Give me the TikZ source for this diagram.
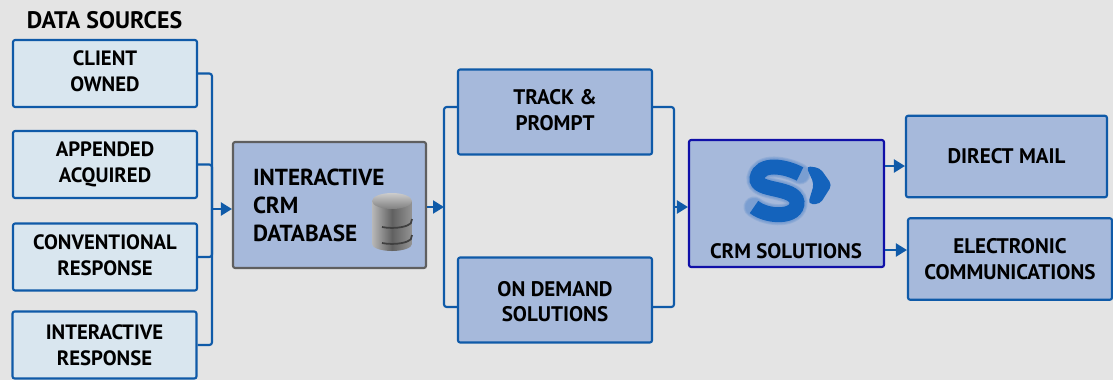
\documentclass[tikz,border=0pt]{standalone}
\usepackage{fontspec}
\setmainfont{PT Sans}
\usetikzlibrary{arrows.meta}
\definecolor{pagegrey}{HTML}{E4E4E4}
\definecolor{paleblue}{HTML}{D9E6EF}
\definecolor{midblue}{HTML}{A6B9DB}
\definecolor{lineblue}{HTML}{0F5AA8}
\definecolor{crmblue}{HTML}{1010A8}
\definecolor{dbgrey}{HTML}{5F5F5F}
\definecolor{logoblue}{HTML}{1463BC}

\begin{document}
\begin{tikzpicture}[x=0.02cm, y=-0.02cm, >={Stealth[length=2.2mm,width=2.6mm,inset=0pt]},
box/.style={draw=lineblue, line width=1.2pt, rounded corners=1.2pt, inner sep=0pt, align=center,
font=\fontsize{11.8}{14.6}\selectfont\bfseries},
srcbox/.style={box, fill=paleblue, minimum width=3.68cm, minimum height=1.34cm},
stepbox/.style={box, fill=midblue, minimum width=3.88cm, minimum height=1.7cm},
outbox/.style={box, fill=midblue, minimum height=1.63cm},
lift/.style={text depth=2.4pt},
link/.style={draw=lineblue, line width=1.2pt, rounded corners=1.5pt},
dbside/.style={left color=black!28, right color=black!42, middle color=black!62},
groove/.style={draw=black!75, line width=1pt}]
% background
\useasboundingbox (0,0) rectangle (1113,380);
\fill [pagegrey] (0,0) rectangle (1113,380);

% data sources
\node [font=\fontsize{13.6}{14}\selectfont\bfseries] (title) at (104.5,20) {DATA SOURCES};
\node [srcbox, lift] (client) at (105,73.5) {CLIENT\\OWNED};
\node [srcbox] (appended) at (105,164.5) {APPENDED\\ACQUIRED};
\node [srcbox, lift] (conventional) at (105,257) {CONVENTIONAL\\RESPONSE};
\node [srcbox] (response) at (104.5,345) {INTERACTIVE\\RESPONSE};

% database
\node [box, fill=midblue, draw=dbgrey, minimum width=3.86cm, minimum height=2.52cm,
font=\fontsize{13.2}{16}\selectfont\bfseries, text width=3.06cm, align=left] (db) at (329.5,205)
{INTERACTIVE\\CRM\\DATABASE};
\path [dbside] (372,201) -- (372,244) arc (180:0:20 and 7) -- (412,201) -- cycle;
\draw [groove] (382,227) arc (120:20:20 and 7) -- (412,219);
\draw [groove] (382,243) arc (120:20:20 and 7) -- (412,235);
\path [top color=black!20, bottom color=black!50] (392,201) ellipse (20 and 8);

% steps
\node [stepbox, lift, font=\fontsize{12}{14.4}\selectfont\bfseries] (track) at (555,112) {TRACK \&\\PROMPT};
\node [stepbox, text height=25pt, font=\fontsize{12}{14.4}\selectfont\bfseries] (demand) at (555,300) {ON DEMAND\\SOLUTIONS};

% crm solutions
\node [box, fill=midblue, draw=crmblue, minimum width=3.9cm, minimum height=2.54cm] (crm) at (786.5,203.5) {};
\node [font=\fontsize{11.9}{14}\selectfont\bfseries] (crmtext) at (786,251) {CRM SOLUTIONS};
\foreach \w in {12,11,10} {
\draw [logoblue!60!midblue, opacity=.2, line width=\w pt, line cap=round]
(800,174) .. controls (785,166) and (760,162) .. (757,178)
.. controls (755,192) and (795,186) .. (797,202) .. controls (798,218) and (768,218) .. (754,207);
}
\draw [logoblue, line width=8.5pt]
(800,174) .. controls (785,166) and (760,162) .. (757,178)
.. controls (755,192) and (795,186) .. (797,202) .. controls (798,218) and (768,218) .. (754,207);
\fill [logoblue, rounded corners=2.5pt] (806,166) -- (820,168) -- (832,185) -- (820,204) -- (808,204) -- (814,184) -- cycle;

% outputs
\node [outbox, minimum width=4.02cm, font=\fontsize{12}{14.6}\selectfont\bfseries] (mail) at (1006.5,156.5) {DIRECT MAIL};
\node [outbox, minimum width=4.08cm, font=\fontsize{12}{14.6}\selectfont\bfseries] (comms) at (1010,259) {ELECTRONIC\\COMMUNICATIONS};

% connectors
\coordinate (busin) at (212,209);
\coordinate (busdb) at (444,207);
\coordinate (buscrm) at (674,207);
\foreach \src in {client,appended,conventional,response}
\draw [link] (\src.east) -| (busin);
\draw [link,->] (busin) -- (busin -| db.west);
\draw [link,->] (busdb -| db.east) -- (busdb);
\draw [link] (track.west |- 0,107) -| (busdb) |- (demand.west |- 0,307);
\draw [link] (track.east |- 0,107) -| (buscrm) |- (demand.east |- 0,307);
\draw [link,->] (buscrm) -- (buscrm -| crm.west);
\draw [link,->] (crm.east |- 0,166) -- (mail.west |- 0,166);
\draw [link,->] (crm.east |- 0,250) -- (comms.west |- 0,250);
\end{tikzpicture}
\end{document}
